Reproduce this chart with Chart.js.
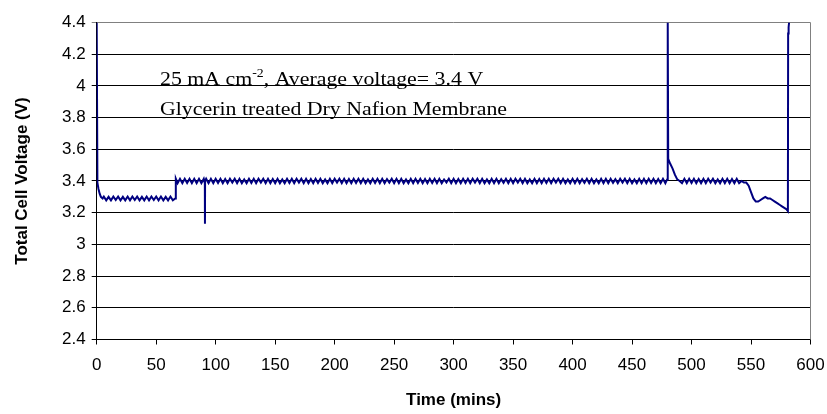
<!DOCTYPE html>
<html lang="en">
<head>
<meta charset="UTF-8">
<title>Total Cell Voltage vs Time</title>
<script src="https://cdn.jsdelivr.net/npm/chart.js"></script>
<style>
  body { margin: 0; background: #fff; }
  canvas { display: block; }
</style>
</head>
<body>
<canvas id="voltChart" width="827" height="414"></canvas>
<script>
// time of each reading (mins)
const timeMin = [
  0, 0.6, 1.5, 2.5, 3.5, 5,
  6, 8, 10, 12, 14, 16, 18, 20, 22, 24,
  26, 28, 30, 32, 34, 36, 38, 40, 42, 44,
  46, 48, 50, 52, 54, 56, 58, 60, 62, 64,
  66, 66.5, 68, 70, 72, 74, 76, 78, 80, 82,
  84, 86, 88, 90, 90.9, 91, 91.1, 92, 94, 96,
  98, 100, 102, 104, 106, 108, 110, 112, 114, 116,
  118, 120, 122, 124, 126, 128, 130, 132, 134, 136,
  138, 140, 142, 144, 146, 148, 150, 152, 154, 156,
  158, 160, 162, 164, 166, 168, 170, 172, 174, 176,
  178, 180, 182, 184, 186, 188, 190, 192, 194, 196,
  198, 200, 202, 204, 206, 208, 210, 212, 214, 216,
  218, 220, 222, 224, 226, 228, 230, 232, 234, 236,
  238, 240, 242, 244, 246, 248, 250, 252, 254, 256,
  258, 260, 262, 264, 266, 268, 270, 272, 274, 276,
  278, 280, 282, 284, 286, 288, 290, 292, 294, 296,
  298, 300, 302, 304, 306, 308, 310, 312, 314, 316,
  318, 320, 322, 324, 326, 328, 330, 332, 334, 336,
  338, 340, 342, 344, 346, 348, 350, 352, 354, 356,
  358, 360, 362, 364, 366, 368, 370, 372, 374, 376,
  378, 380, 382, 384, 386, 388, 390, 392, 394, 396,
  398, 400, 402, 404, 406, 408, 410, 412, 414, 416,
  418, 420, 422, 424, 426, 428, 430, 432, 434, 436,
  438, 440, 442, 444, 446, 448, 450, 452, 454, 456,
  458, 460, 462, 464, 466, 468, 470, 472, 474, 476,
  478, 479.5, 480, 480.4, 482, 484, 486, 488, 490,
  492, 494, 496, 498, 500, 502, 504, 506, 508, 510,
  512, 514, 516, 518, 520, 522, 524, 526, 528, 530,
  532, 534, 536, 538, 540, 542, 544,
  546, 548, 550, 552, 554, 556, 558, 560, 562, 564,
  566, 568, 570, 572, 574, 576, 578, 580, 581, 581.2,
  581.6, 582
];

// total cell voltage (V)
const voltage = [
  4.40, 3.39, 3.35, 3.32, 3.30, 3.29,
  3.302, 3.278, 3.30, 3.278, 3.302, 3.28, 3.302, 3.278, 3.30, 3.278,
  3.302, 3.278, 3.302, 3.28, 3.302, 3.278, 3.30, 3.278, 3.302, 3.278,
  3.302, 3.28, 3.302, 3.278, 3.302, 3.278, 3.30, 3.278, 3.302, 3.278,
  3.29, 3.414, 3.386, 3.414, 3.386, 3.414, 3.388, 3.414, 3.386, 3.414,
  3.386, 3.414, 3.386, 3.414, 3.386, 3.13, 3.40, 3.414, 3.386, 3.414,
  3.386, 3.414, 3.388, 3.414, 3.386, 3.412, 3.386, 3.414, 3.39, 3.414,
  3.386, 3.414, 3.386, 3.41, 3.386, 3.414, 3.388, 3.414, 3.386, 3.414,
  3.39, 3.414, 3.386, 3.414, 3.386, 3.412, 3.386, 3.414, 3.386, 3.41,
  3.386, 3.414, 3.388, 3.414, 3.386, 3.414, 3.39, 3.414, 3.386, 3.414,
  3.386, 3.412, 3.386, 3.414, 3.388, 3.414, 3.386, 3.41, 3.386, 3.414,
  3.386, 3.414, 3.39, 3.414, 3.386, 3.414, 3.386, 3.412, 3.386, 3.414,
  3.388, 3.414, 3.386, 3.414, 3.386, 3.41, 3.386, 3.414, 3.388, 3.414,
  3.386, 3.414, 3.386, 3.412, 3.39, 3.414, 3.386, 3.414, 3.386, 3.414,
  3.386, 3.41, 3.386, 3.414, 3.386, 3.414, 3.388, 3.414, 3.386, 3.412,
  3.386, 3.414, 3.388, 3.414, 3.386, 3.414, 3.386, 3.41, 3.39, 3.414,
  3.386, 3.414, 3.386, 3.412, 3.386, 3.414, 3.388, 3.414, 3.386, 3.414,
  3.39, 3.414, 3.386, 3.414, 3.386, 3.41, 3.386, 3.414, 3.386, 3.414,
  3.386, 3.412, 3.388, 3.414, 3.386, 3.414, 3.386, 3.414, 3.39, 3.414,
  3.386, 3.414, 3.386, 3.41, 3.386, 3.414, 3.386, 3.412, 3.386, 3.414,
  3.388, 3.414, 3.386, 3.414, 3.39, 3.414, 3.386, 3.414, 3.386, 3.41,
  3.386, 3.414, 3.386, 3.414, 3.386, 3.412, 3.388, 3.414, 3.386, 3.414,
  3.386, 3.41, 3.386, 3.414, 3.386, 3.414, 3.386, 3.414, 3.388, 3.412,
  3.386, 3.414, 3.39, 3.414, 3.386, 3.414, 3.386, 3.41, 3.386, 3.414,
  3.386, 3.414, 3.386, 3.414, 3.388, 3.414, 3.386, 3.412, 3.386, 3.414,
  3.386, 3.41, 4.40, 3.54, 3.51, 3.48, 3.44, 3.41, 3.40,
  3.386, 3.414, 3.386, 3.414, 3.388, 3.414, 3.386, 3.412, 3.386, 3.414,
  3.386, 3.414, 3.39, 3.414, 3.386, 3.41, 3.386, 3.414, 3.386, 3.414,
  3.386, 3.412, 3.386, 3.414, 3.386, 3.40, 3.39,
  3.39, 3.37, 3.33, 3.29, 3.27, 3.27, 3.28, 3.29, 3.30, 3.29,
  3.29, 3.28, 3.27, 3.26, 3.25, 3.24, 3.23, 3.22, 3.21, 4.33,
  4.37, 4.40
];

const xTickLabels = ['0', '50', '100', '150', '200', '250', '300', '350', '400', '450', '500', '550', '600'];
const yTickLabels = ['2.4', '2.6', '2.8', '3', '3.2', '3.4', '3.6', '3.8', '4', '4.2', '4.4'];

const noteMain = '25 mA cm';
const noteSup = '-2';
const noteRest = ', Average voltage= 3.4 V';
const noteLine2 = 'Glycerin treated Dry Nafion Membrane';

const sansFont = '"Liberation Sans", Arial, sans-serif';

// text box on the plot + grey plot-area frame on the right
const notePlugin = {
  id: 'notes',
  afterDraw(chart) {
    const ctx = chart.ctx;
    const area = chart.chartArea;
    ctx.save();
    ctx.strokeStyle = '#808080';
    ctx.lineWidth = 1;
    ctx.beginPath();
    ctx.moveTo(area.right, area.top);
    ctx.lineTo(area.right, area.bottom);
    ctx.stroke();

    ctx.fillStyle = '#000';
    ctx.textBaseline = 'alphabetic';
    ctx.translate(160, 0);
    ctx.scale(1.15, 1);
    ctx.font = '19px "Liberation Serif", "Times New Roman", serif';
    let x = 0;
    ctx.fillText(noteMain, x, 85);
    x += ctx.measureText(noteMain).width;
    ctx.font = '12px "Liberation Serif", "Times New Roman", serif';
    ctx.fillText(noteSup, x, 77);
    x += ctx.measureText(noteSup).width;
    ctx.font = '19px "Liberation Serif", "Times New Roman", serif';
    ctx.fillText(noteRest, x, 85);
    ctx.fillText(noteLine2, 0, 115);
    ctx.restore();
  }
};

const points = timeMin.map((t, i) => ({ x: t, y: voltage[i] }));

new Chart(document.getElementById('voltChart').getContext('2d'), {
  type: 'line',
  data: {
    datasets: [{
      data: points,
      borderColor: '#000080',
      borderWidth: 2,
      pointRadius: 0,
      tension: 0,
      fill: false
    }]
  },
  options: {
    responsive: false,
    animation: false,
    events: [],
    layout: { padding: { top: 22.5, right: 16.5, left: 0, bottom: 3 } },
    plugins: {
      legend: { display: false },
      tooltip: { enabled: false }
    },
    scales: {
      x: {
        type: 'linear',
        min: 0,
        max: 600,
        afterFit(scale) {
          scale.height = 71.5;
          // keep the plot width; the last label may hang into the margin
          scale.paddingRight = 10;
          scale.paddingLeft = 0;
        },
        ticks: {
          stepSize: 50,
          maxRotation: 0,
          autoSkip: false,
          padding: 11,
          color: '#000',
          font: { family: sansFont, size: 17 },
          callback: (v, i) => xTickLabels[i]
        },
        grid: { drawOnChartArea: false, drawTicks: true, tickLength: 5, color: '#000' },
        border: { display: true, color: '#000' },
        title: {
          display: true,
          text: 'Time (mins)',
          color: '#000',
          font: { family: sansFont, size: 17, weight: 'bold' },
          padding: { top: 0, bottom: 0 }
        }
      },
      y: {
        min: 2.4,
        max: 4.4,
        afterFit(scale) { scale.width = 96.7; },
        ticks: {
          stepSize: 0.2,
          autoSkip: false,
          padding: 6,
          color: '#000',
          font: { family: sansFont, size: 17 },
          callback: (v, i) => yTickLabels[i]
        },
        grid: {
          tickLength: 5,
          color: (c) => (c.index === yTickLabels.length - 1 ? '#808080' : '#000')
        },
        border: { display: true, color: '#000' },
        title: {
          display: true,
          text: 'Total Cell Voltage (V)',
          color: '#000',
          font: { family: sansFont, size: 17, weight: 'bold' },
          padding: { top: 11.8, bottom: 0 }
        }
      }
    }
  },
  plugins: [notePlugin]
});
</script>
</body>
</html>
